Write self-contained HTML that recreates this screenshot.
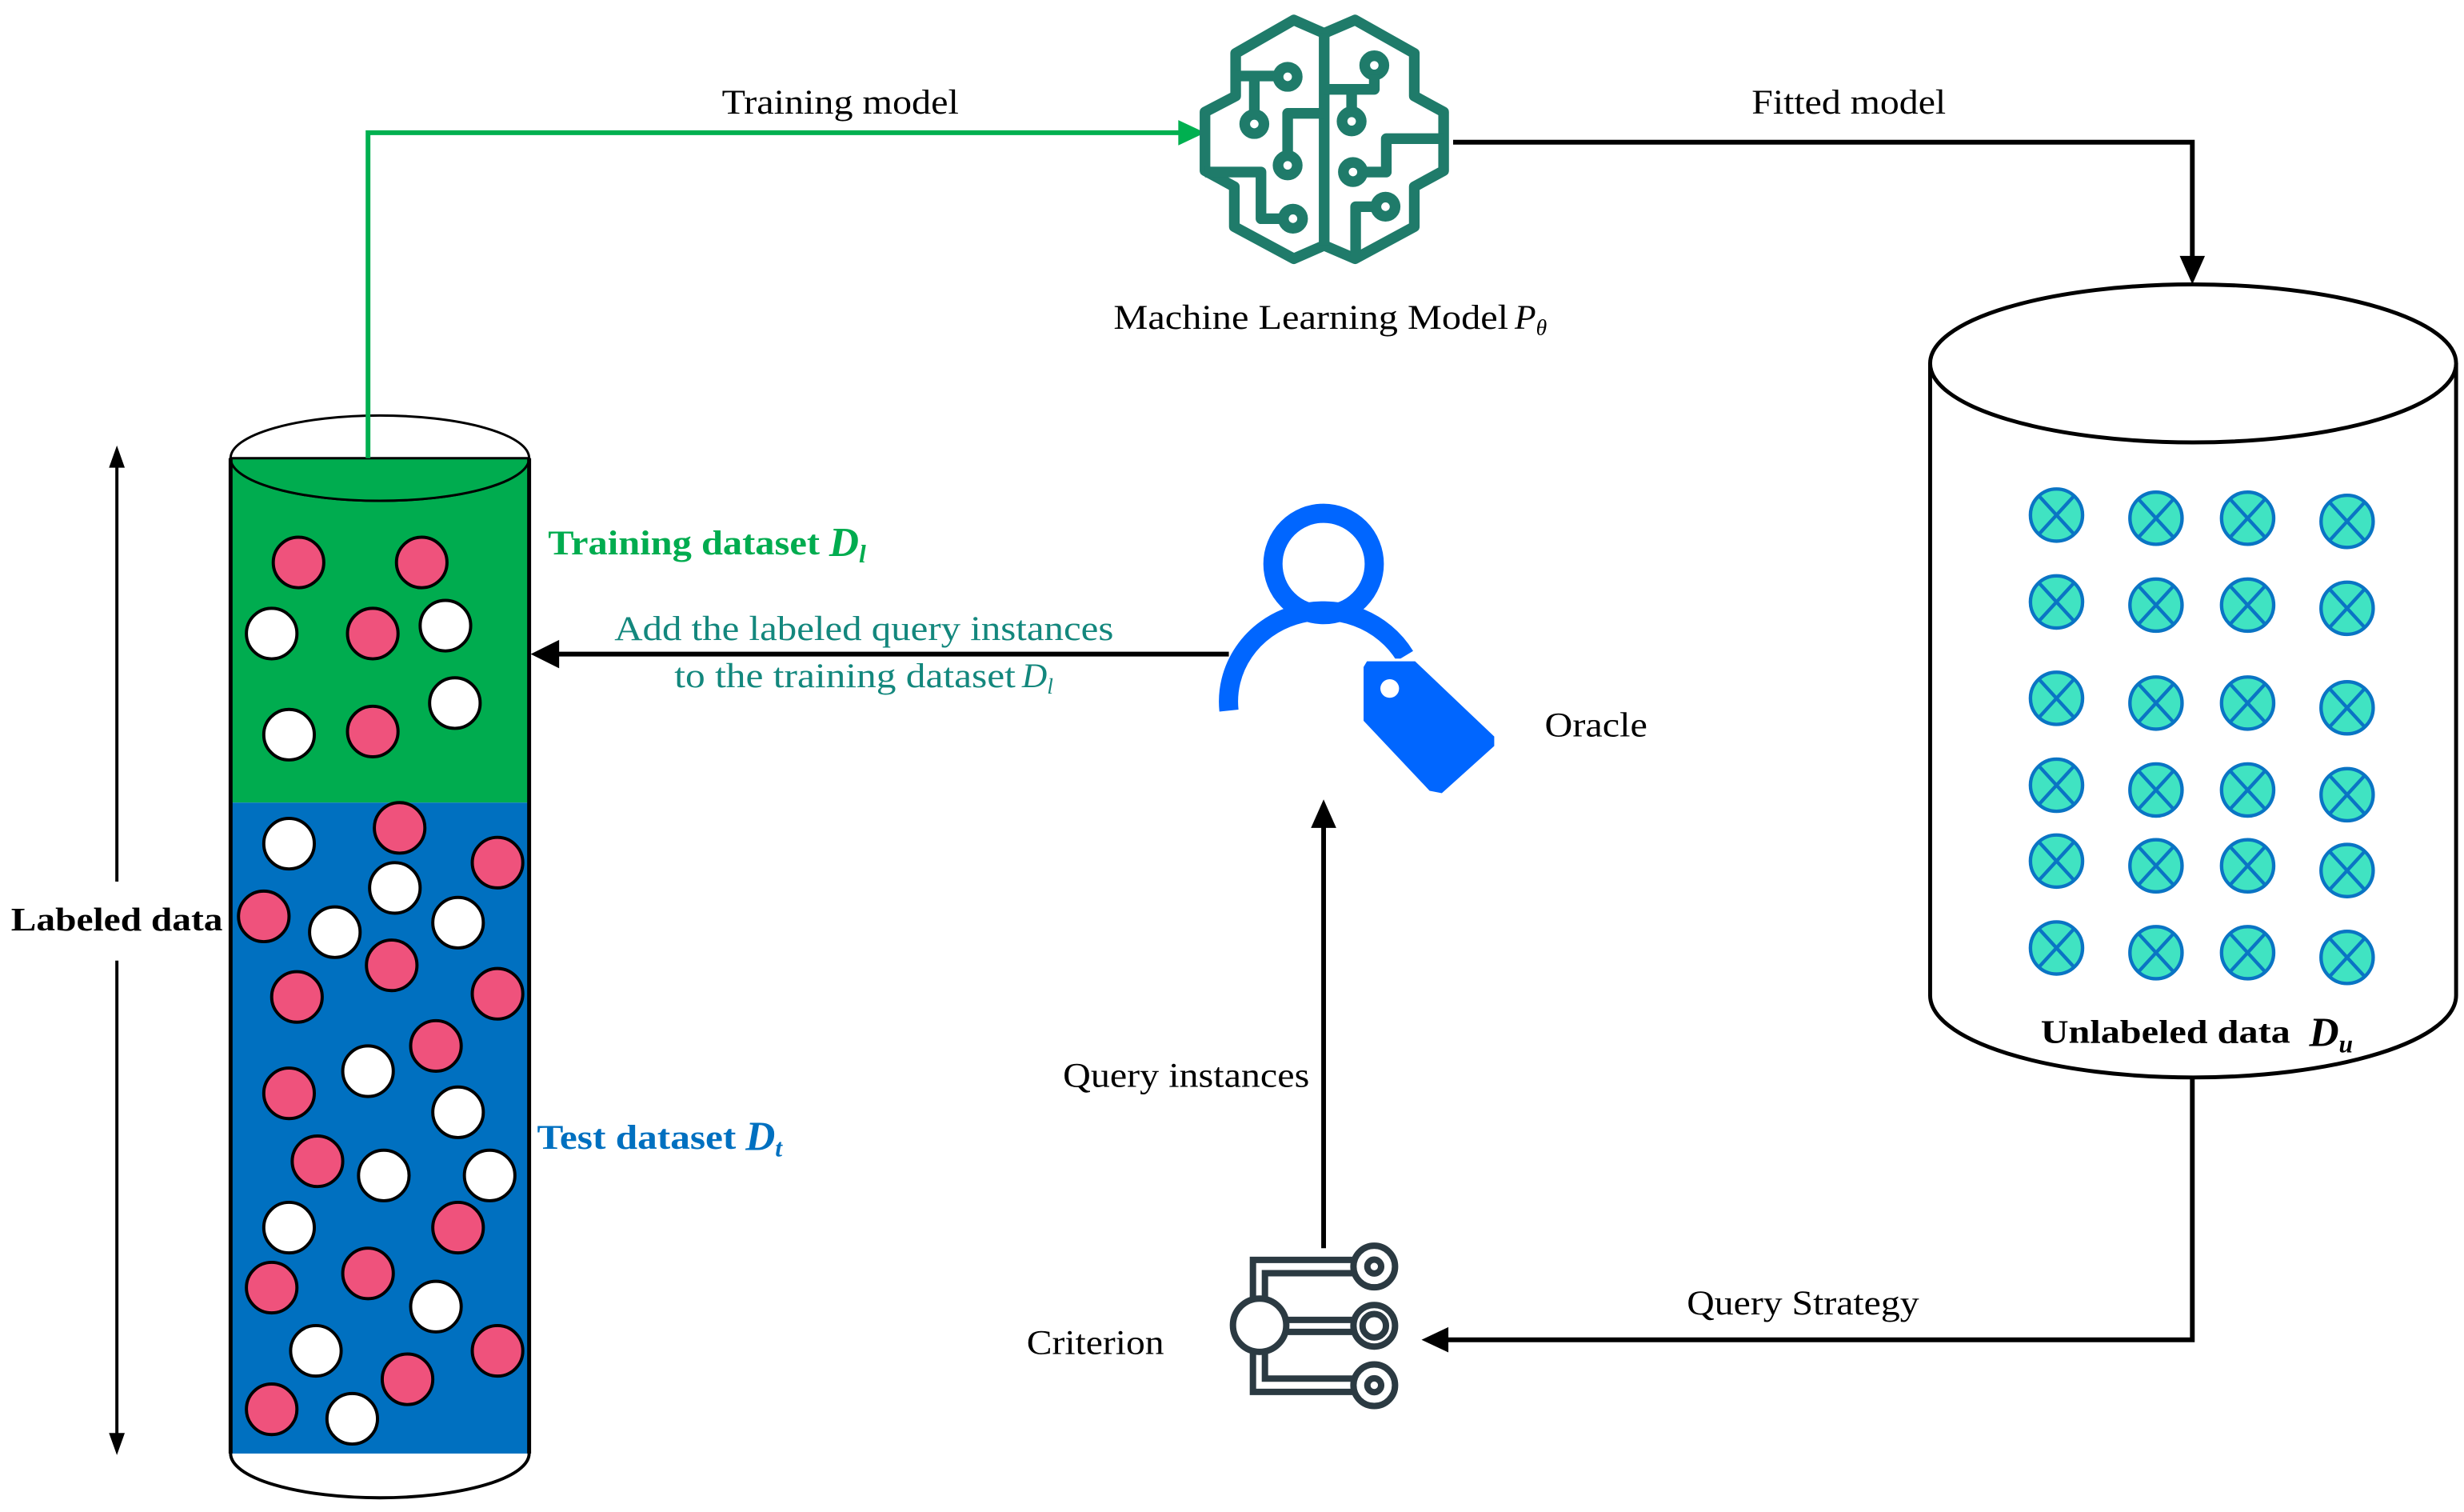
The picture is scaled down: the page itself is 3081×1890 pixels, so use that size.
<!DOCTYPE html>
<html><head><meta charset="utf-8"><style>html,body{margin:0;padding:0;background:#fff}svg{display:block}text{font-family:"Liberation Serif","Times New Roman",serif}</style></head>
<body>
<svg width="3081" height="1890" viewBox="0 0 1560 957" preserveAspectRatio="none" xmlns="http://www.w3.org/2000/svg">
<!-- left cylinder -->
<ellipse cx="240.5" cy="920" rx="94.5" ry="28" fill="#fff" stroke="#000" stroke-width="2"/>
<rect x="146" y="290" width="189" height="218" fill="#00ac4f"/>
<rect x="146" y="508" width="189" height="412" fill="#0070c0"/>
<ellipse cx="240.5" cy="290" rx="94.5" ry="27" fill="#fff" stroke="#000" stroke-width="1.5"/>
<path d="M146,290 A94.5,27 0 0 0 335,290 Z" fill="#00ac4f" stroke="#000" stroke-width="1.5"/>
<line x1="146" y1="290" x2="146" y2="920" stroke="#000" stroke-width="2.5"/>
<line x1="335" y1="290" x2="335" y2="920" stroke="#000" stroke-width="2.5"/>
<g stroke="#000" stroke-width="2">
<g fill="#ef527c">
<circle cx="189" cy="356" r="16"/><circle cx="267" cy="356" r="16"/><circle cx="236" cy="401" r="16"/><circle cx="236" cy="463" r="16"/>
<circle cx="253" cy="524" r="16"/><circle cx="315" cy="546" r="16"/><circle cx="167" cy="580" r="16"/><circle cx="248" cy="611" r="16"/><circle cx="188" cy="631" r="16"/><circle cx="315" cy="629" r="16"/><circle cx="276" cy="662" r="16"/><circle cx="183" cy="692" r="16"/><circle cx="201" cy="735" r="16"/><circle cx="290" cy="777" r="16"/><circle cx="172" cy="815" r="16"/><circle cx="233" cy="806" r="16"/><circle cx="258" cy="873" r="16"/><circle cx="315" cy="855" r="16"/><circle cx="172" cy="892" r="16"/>
</g>
<g fill="#fff">
<circle cx="172" cy="401" r="16"/><circle cx="282" cy="396" r="16"/><circle cx="288" cy="445" r="16"/><circle cx="183" cy="465" r="16"/>
<circle cx="183" cy="534" r="16"/><circle cx="250" cy="562" r="16"/><circle cx="290" cy="584" r="16"/><circle cx="212" cy="590" r="16"/><circle cx="233" cy="678" r="16"/><circle cx="290" cy="704" r="16"/><circle cx="243" cy="744" r="16"/><circle cx="310" cy="744" r="16"/><circle cx="183" cy="777" r="16"/><circle cx="276" cy="827" r="16"/><circle cx="200" cy="855" r="16"/><circle cx="223" cy="898" r="16"/>
</g>
</g>
<!-- labeled data arrow -->
<line x1="74" y1="293" x2="74" y2="558" stroke="#000" stroke-width="2"/>
<path d="M69,296 L74,282 L79,296 z" fill="#000"/>
<line x1="74" y1="608" x2="74" y2="910" stroke="#000" stroke-width="2"/>
<path d="M69,907 L74,921 L79,907 z" fill="#000"/>
<text x="7" y="589" font-size="21" font-weight="bold" textLength="134" lengthAdjust="spacingAndGlyphs">Labeled data</text>

<!-- right cylinder -->
<path d="M1222,230 L1222,630 A166.5,52 0 0 0 1555,630 L1555,230" fill="#fff" stroke="#000" stroke-width="2.5"/>
<ellipse cx="1388.5" cy="230" rx="166.5" ry="50" fill="#fff" stroke="#000" stroke-width="2.5"/>
<g fill="#40e3c2" stroke="#0a74c4" stroke-width="2.2">
<g transform="translate(1302,0)">
<circle cy="326" r="16.5"/><circle cy="381" r="16.5"/><circle cy="442" r="16.5"/><circle cy="497" r="16.5"/><circle cy="545" r="16.5"/><circle cy="600" r="16.5"/>
<path d="M-11,-12 L11,12 M-11,12 L11,-12" transform="translate(0,326)"/><path d="M-11,-12 L11,12 M-11,12 L11,-12" transform="translate(0,381)"/><path d="M-11,-12 L11,12 M-11,12 L11,-12" transform="translate(0,442)"/><path d="M-11,-12 L11,12 M-11,12 L11,-12" transform="translate(0,497)"/><path d="M-11,-12 L11,12 M-11,12 L11,-12" transform="translate(0,545)"/><path d="M-11,-12 L11,12 M-11,12 L11,-12" transform="translate(0,600)"/>
</g>
<g transform="translate(1365,0)">
<circle cy="328" r="16.5"/><circle cy="383" r="16.5"/><circle cy="445" r="16.5"/><circle cy="500" r="16.5"/><circle cy="548" r="16.5"/><circle cy="603" r="16.5"/>
<path d="M-11,-12 L11,12 M-11,12 L11,-12" transform="translate(0,328)"/><path d="M-11,-12 L11,12 M-11,12 L11,-12" transform="translate(0,383)"/><path d="M-11,-12 L11,12 M-11,12 L11,-12" transform="translate(0,445)"/><path d="M-11,-12 L11,12 M-11,12 L11,-12" transform="translate(0,500)"/><path d="M-11,-12 L11,12 M-11,12 L11,-12" transform="translate(0,548)"/><path d="M-11,-12 L11,12 M-11,12 L11,-12" transform="translate(0,603)"/>
</g>
<g transform="translate(1423,0)">
<circle cy="328" r="16.5"/><circle cy="383" r="16.5"/><circle cy="445" r="16.5"/><circle cy="500" r="16.5"/><circle cy="548" r="16.5"/><circle cy="603" r="16.5"/>
<path d="M-11,-12 L11,12 M-11,12 L11,-12" transform="translate(0,328)"/><path d="M-11,-12 L11,12 M-11,12 L11,-12" transform="translate(0,383)"/><path d="M-11,-12 L11,12 M-11,12 L11,-12" transform="translate(0,445)"/><path d="M-11,-12 L11,12 M-11,12 L11,-12" transform="translate(0,500)"/><path d="M-11,-12 L11,12 M-11,12 L11,-12" transform="translate(0,548)"/><path d="M-11,-12 L11,12 M-11,12 L11,-12" transform="translate(0,603)"/>
</g>
<g transform="translate(1486,0)">
<circle cy="330" r="16.5"/><circle cy="385" r="16.5"/><circle cy="448" r="16.5"/><circle cy="503" r="16.5"/><circle cy="551" r="16.5"/><circle cy="606" r="16.5"/>
<path d="M-11,-12 L11,12 M-11,12 L11,-12" transform="translate(0,330)"/><path d="M-11,-12 L11,12 M-11,12 L11,-12" transform="translate(0,385)"/><path d="M-11,-12 L11,12 M-11,12 L11,-12" transform="translate(0,448)"/><path d="M-11,-12 L11,12 M-11,12 L11,-12" transform="translate(0,503)"/><path d="M-11,-12 L11,12 M-11,12 L11,-12" transform="translate(0,551)"/><path d="M-11,-12 L11,12 M-11,12 L11,-12" transform="translate(0,606)"/>
</g>
</g>
<text x="1292" y="660" font-size="21" font-weight="bold" textLength="158" lengthAdjust="spacingAndGlyphs">Unlabeled data</text>
<text x="1462" y="662" font-size="26" font-weight="bold" font-style="italic">D<tspan font-size="16" dy="4">u</tspan></text>

<!-- connectors -->
<polyline points="233,290 233,84 750,84" fill="none" stroke="#00b050" stroke-width="3"/>
<path d="M746,76 L763,84 L746,92 z" fill="#00b050"/>
<polyline points="920,90 1388,90 1388,165" fill="none" stroke="#000" stroke-width="3"/>
<path d="M1380,162 L1388,180 L1396,162 z" fill="#000"/>
<polyline points="1388,682 1388,848 915,848" fill="none" stroke="#000" stroke-width="3"/>
<path d="M917,840 L900,848 L917,856 z" fill="#000"/>
<line x1="838" y1="790" x2="838" y2="522" stroke="#000" stroke-width="3"/>
<path d="M830,524 L838,506 L846,524 z" fill="#000"/>
<line x1="778" y1="414" x2="352" y2="414" stroke="#000" stroke-width="3"/>
<path d="M354,405 L336,414 L354,423 z" fill="#000"/>

<!-- brain -->
<g transform="translate(749.4,0) scale(0.1688)" fill="none" stroke="#1f7b6a" stroke-width="40" stroke-linejoin="round">
<path d="M527,125 L413,75 L195,200 L195,360 L80,420 L80,640 L190,700 L190,850 L413,970 L527,920 L643,970 L865,850 L865,700 L975,640 L975,420 L865,360 L865,200 L643,75 Z"/>
<line x1="527" y1="125" x2="527" y2="920"/>
<path d="M195,285 L345,285"/><circle cx="390" cy="288" r="36"/>
<path d="M265,285 L265,425"/><circle cx="265" cy="465" r="36"/>
<path d="M527,425 L390,425 L390,580"/><circle cx="390" cy="620" r="36"/>
<path d="M80,645 L290,645 L290,820 L370,820"/><circle cx="410" cy="820" r="36"/>
<circle cx="715" cy="245" r="36"/><path d="M715,281 L715,335 L527,335"/>
<path d="M630,335 L630,415"/><circle cx="630" cy="455" r="36"/>
<path d="M975,520 L760,520 L760,645 L675,645"/><circle cx="635" cy="645" r="36"/>
<circle cx="757" cy="775" r="36"/><path d="M720,775 L645,775 L645,960"/>
</g>

<!-- oracle -->
<g transform="translate(759.5,313.9) scale(0.1688)">
<circle cx="465" cy="255" r="190" fill="none" stroke="#0066ff" stroke-width="72"/>
<path d="M110,805 A355,340 0 0 1 770,600" fill="none" stroke="#0066ff" stroke-width="72"/>
<path d="M625,615 L810,615 L1110,900 L1110,940 L910,1120 L860,1110 L610,845 L610,640 Z" fill="#0066ff" stroke="#fff" stroke-width="10"/>
<circle cx="713" cy="722" r="35" fill="#fff"/>
</g>

<!-- criterion -->
<g transform="translate(759.5,779.7) scale(0.1688)" fill="none" stroke="#2b3a42" stroke-width="24">
<path d="M200,255 L200,105 L575,105 M245,255 L245,155 L575,155"/>
<path d="M325,330 L575,330 M325,375 L575,375"/>
<path d="M200,445 L200,600 L575,600 M245,445 L245,550 L575,550"/>
<circle cx="225" cy="350" r="100" fill="#fff"/>
<circle cx="655" cy="130" r="78" fill="#fff"/><circle cx="655" cy="130" r="26"/>
<circle cx="655" cy="352" r="78" fill="#fff"/><circle cx="655" cy="352" r="44"/>
<circle cx="655" cy="575" r="78" fill="#fff"/><circle cx="655" cy="575" r="26"/>
</g>

<!-- labels -->
<text x="457" y="72" font-size="22" textLength="150" lengthAdjust="spacingAndGlyphs">Training model</text>
<text x="1109" y="72" font-size="22" textLength="123" lengthAdjust="spacingAndGlyphs">Fitted model</text>
<text x="705" y="208" font-size="22" textLength="250" lengthAdjust="spacingAndGlyphs">Machine Learning Model</text>
<text x="959" y="208" font-size="22" font-style="italic">P<tspan font-size="14" dy="4">θ</tspan></text>
<text x="347" y="351" font-size="22" font-weight="bold" fill="#00ac4f" textLength="172" lengthAdjust="spacingAndGlyphs">Training dataset</text>
<text x="525" y="352" font-size="26" font-weight="bold" font-style="italic" fill="#00ac4f">D<tspan font-size="16" dy="4">l</tspan></text>
<text x="389" y="405" font-size="22" fill="#13877d" textLength="316" lengthAdjust="spacingAndGlyphs">Add  the labeled query instances</text>
<text x="427" y="435" font-size="22" fill="#13877d" textLength="216" lengthAdjust="spacingAndGlyphs">to the training dataset</text>
<text x="647" y="435" font-size="22" font-style="italic" fill="#13877d">D<tspan font-size="14" dy="4">l</tspan></text>
<text x="978" y="466" font-size="22" textLength="65" lengthAdjust="spacingAndGlyphs">Oracle</text>
<text x="340" y="727" font-size="22" font-weight="bold" fill="#0070c0" textLength="126" lengthAdjust="spacingAndGlyphs">Test dataset</text>
<text x="472" y="728" font-size="26" font-weight="bold" font-style="italic" fill="#0070c0">D<tspan font-size="16" dy="4">t</tspan></text>
<text x="673" y="688" font-size="22" textLength="156" lengthAdjust="spacingAndGlyphs">Query instances</text>
<text x="650" y="857" font-size="22" textLength="87" lengthAdjust="spacingAndGlyphs">Criterion</text>
<text x="1068" y="832" font-size="22" textLength="147" lengthAdjust="spacingAndGlyphs">Query Strategy</text>
</svg>
</body></html>
